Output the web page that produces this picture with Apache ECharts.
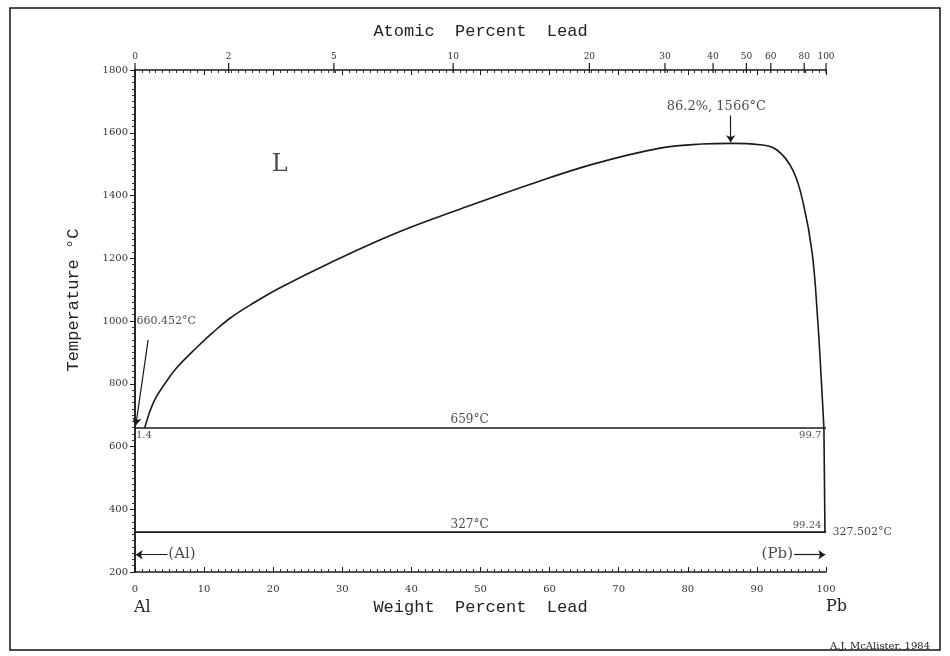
<!DOCTYPE html>
<html><head><meta charset="utf-8">
<script src="https://cdn.jsdelivr.net/npm/echarts@6/dist/echarts.min.js"></script>
<style>html,body{margin:0;padding:0;background:#fff}#c{width:950px;height:656px}</style>
</head><body><div id="c"></div>
<script>
// ---- data ----
const liquidusWt = [1.4, 2.2, 3.0, 4.0, 6.0, 9.0, 11.2, 13.7, 17.2, 21.0, 28.2, 37.9, 47.0, 56.7, 66.3, 76.0, 82.0, 86.2, 90.4, 92.9, 95.2, 96.7, 98.0, 98.8, 99.3, 99.7];
const liquidusT  = [659, 715, 755, 790, 850, 917, 962, 1008, 1058, 1106, 1185, 1281, 1356, 1432, 1500, 1551, 1564, 1566, 1562, 1545, 1481, 1376, 1217, 1003, 820, 659];
const pbLiquidWt = [99.7, 99.85];
const pbLiquidT  = [659, 327];
const monotecticT = 659;
const eutecticT = 327;
const atomicTicks = [0, 2, 5, 10, 20, 30, 40, 50, 60, 80, 100];
const MW_PB = 207.2, MW_AL = 26.98;

function atToWt(a) { return a * MW_PB / (a * MW_PB + (100 - a) * MW_AL) * 100; }
const atTickWt = atomicTicks.map(atToWt);

const INK = '#1a1a1a';
const serif = 'DejaVu Serif';
const mono = 'Liberation Mono';

function lbl(x, y, text, align, vAlign, size) {
  return {
    value: [x, y],
    label: { show: true, position: [0, 0], formatter: text, align: align, verticalAlign: vAlign,
             fontSize: size || 10, fontFamily: serif, color: INK }
  };
}

const chart = echarts.init(document.getElementById('c'), null, { renderer: 'canvas' });
const axisLine = { show: true, lineStyle: { color: INK, width: 1.5 } };

chart.setOption({
  animation: false,
  backgroundColor: '#fff',
  grid: { left: 135, right: 124, top: 70, bottom: 84, containLabel: false },
  xAxis: [
    { type: 'value', position: 'bottom', min: 0, max: 100, interval: 10,
      axisLine: axisLine, splitLine: { show: false },
      axisTick: { show: true, inside: true, length: 5, lineStyle: { color: INK } },
      minorTick: { show: true, splitNumber: 10, length: 3, lineStyle: { color: '#333' } },
      axisLabel: { fontSize: 10, fontFamily: serif, color: '#333', margin: 12 },
      name: 'Weight  Percent  Lead', nameLocation: 'middle', nameGap: 27,
      nameTextStyle: { fontSize: 17, fontFamily: mono, color: '#222' } },
    { type: 'value', position: 'top', min: 0, max: 100, interval: 10,
      axisLine: axisLine, splitLine: { show: false },
      axisTick: { show: true, inside: true, length: 5, lineStyle: { color: INK } },
      minorTick: { show: true, splitNumber: 10, length: 3, lineStyle: { color: '#333' } },
      axisLabel: { customValues: atTickWt, fontSize: 9, fontFamily: serif, color: '#333', margin: 9,
        formatter: function (v) {
          for (let i = 0; i < atTickWt.length; i++) if (Math.abs(atTickWt[i] - v) < 1e-6) return String(atomicTicks[i]);
          return '';
        } },
      name: 'Atomic  Percent  Lead', nameLocation: 'middle', nameGap: 30,
      nameTextStyle: { fontSize: 17, fontFamily: mono, color: '#222' } }
  ],
  yAxis: [
    { type: 'value', position: 'left', min: 200, max: 1800, interval: 200,
      axisLine: axisLine, splitLine: { show: false },
      axisTick: { show: true, inside: false, length: 5, lineStyle: { color: INK } },
      minorTick: { show: true, splitNumber: 10, length: 3, lineStyle: { color: '#333' } },
      axisLabel: { fontSize: 10, fontFamily: serif, color: '#333', margin: 7,
                   formatter: function (v) { return String(v); } } },
    { type: 'value', position: 'right', min: 200, max: 1800, interval: 200,
      axisLine: axisLine, splitLine: { show: false },
      axisTick: { show: true, inside: true, length: 5, lineStyle: { color: INK } },
      minorTick: { show: true, splitNumber: 10, length: 3, lineStyle: { color: '#333' } },
      axisLabel: { show: false } }
  ],
  series: [
    { type: 'line', name: 'liquidus', smooth: 0.4, symbol: 'none',
      lineStyle: { color: INK, width: 1.6 },
      data: liquidusWt.map((w, i) => [w, liquidusT[i]]) },
    { type: 'line', name: 'Pb liquid', symbol: 'none', lineStyle: { color: INK, width: 1.6 },
      data: pbLiquidWt.map((w, i) => [w, pbLiquidT[i]]) },
    { type: 'line', name: 'monotectic', symbol: 'none', lineStyle: { color: INK, width: 1.6 },
      data: [[0, monotecticT], [100, monotecticT]] },
    { type: 'line', name: 'eutectic', symbol: 'none', lineStyle: { color: INK, width: 1.6 },
      data: [[0, eutecticT], [100, eutecticT]],
      markLine: {
        silent: true, symbol: ['none', 'arrow'], symbolSize: 7, animation: false,
        lineStyle: { color: INK, type: 'solid', width: 1.2 }, label: { show: false },
        data: [
          [{ coord: [1.9, 940] }, { coord: [0.12, 668] }],
          [{ coord: [86.2, 1655] }, { coord: [86.2, 1570] }],
          [{ coord: [4.7, 255] }, { coord: [0.1, 255] }],
          [{ coord: [95.4, 255] }, { coord: [99.9, 255] }]
        ]
      } },
    { type: 'custom', name: 'atomic ticks', clip: false, silent: true,
      data: atTickWt.map(w => [w, 1800]),
      renderItem: function (params, api) {
        const p = api.coord([api.value(0), api.value(1)]);
        return { type: 'line', shape: { x1: p[0], y1: p[1] - 7, x2: p[0], y2: p[1] + 3 },
                 style: { stroke: INK, lineWidth: 1.2 } };
      } },
    { type: 'scatter', name: 'labels', clip: false, silent: true, symbolSize: 1,
      itemStyle: { color: 'rgba(0,0,0,0)' },
      data: [
        lbl(21.0, 1497, 'L', 'center', 'middle', 24),
        lbl(0.3, 997, '660.452°C', 'left', 'middle', 11),
        lbl(84.2, 1682, '86.2%, 1566°C', 'center', 'middle', 13),
        lbl(48.5, 663, '659°C', 'center', 'bottom', 12),
        lbl(48.5, 331, '327°C', 'center', 'bottom', 12),
        lbl(0.2, 650, '1.4', 'left', 'top', 10),
        lbl(99.4, 650, '99.7', 'right', 'top', 10),
        lbl(99.4, 331, '99.24', 'right', 'bottom', 10),
        lbl(101.0, 327, '327.502°C', 'left', 'middle', 11),
        lbl(4.9, 255, '(Al)', 'left', 'middle', 15),
        lbl(95.3, 255, '(Pb)', 'right', 'middle', 15)
      ] }
  ],
  graphic: [
    { type: 'rect', shape: { x: 10, y: 8, width: 930, height: 642 }, silent: true,
      style: { fill: 'none', stroke: '#111', lineWidth: 1.5 } },
    { type: 'text', x: 73, y: 300, rotation: Math.PI / 2, silent: true,
      style: { text: 'Temperature °C', align: 'center', verticalAlign: 'middle',
               fontSize: 17, fontFamily: mono, fill: '#222' } },
    { type: 'text', x: 134, y: 608, silent: true,
      style: { text: 'Al', align: 'left', verticalAlign: 'middle', fontSize: 16, fontFamily: serif, fill: '#222' } },
    { type: 'text', x: 826, y: 607, silent: true,
      style: { text: 'Pb', align: 'left', verticalAlign: 'middle', fontSize: 16, fontFamily: serif, fill: '#222' } },
    { type: 'text', x: 830, y: 646, silent: true,
      style: { text: 'A.J. McAlister, 1984', align: 'left', verticalAlign: 'middle', fontSize: 10, fontFamily: serif, fill: '#222' } }
  ]
});
</script>
</body></html>
